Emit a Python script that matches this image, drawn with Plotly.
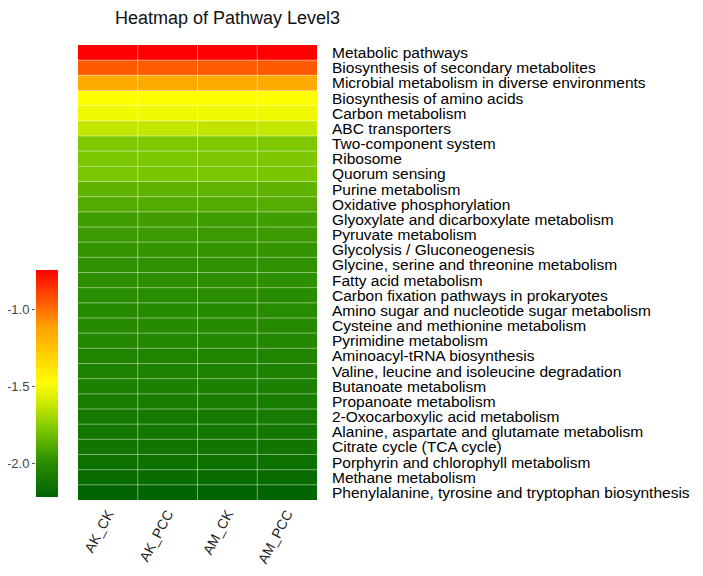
import plotly.graph_objects as go

# pathways, top to bottom
pathways = [
    "Metabolic pathways",
    "Biosynthesis of secondary metabolites",
    "Microbial metabolism in diverse environments",
    "Biosynthesis of amino acids",
    "Carbon metabolism",
    "ABC transporters",
    "Two-component system",
    "Ribosome",
    "Quorum sensing",
    "Purine metabolism",
    "Oxidative phosphorylation",
    "Glyoxylate and dicarboxylate metabolism",
    "Pyruvate metabolism",
    "Glycolysis / Gluconeogenesis",
    "Glycine, serine and threonine metabolism",
    "Fatty acid metabolism",
    "Carbon fixation pathways in prokaryotes",
    "Amino sugar and nucleotide sugar metabolism",
    "Cysteine and methionine metabolism",
    "Pyrimidine metabolism",
    "Aminoacyl-tRNA biosynthesis",
    "Valine, leucine and isoleucine degradation",
    "Butanoate metabolism",
    "Propanoate metabolism",
    "2-Oxocarboxylic acid metabolism",
    "Alanine, aspartate and glutamate metabolism",
    "Citrate cycle (TCA cycle)",
    "Porphyrin and chlorophyll metabolism",
    "Methane metabolism",
    "Phenylalanine, tyrosine and tryptophan biosynthesis",
]

samples = ["AK_CK", "AK_PCC", "AM_CK", "AM_PCC"]

# log10 relative abundance, one list per sample (same row order as pathways)
ak_ck = [-0.740, -0.949, -1.148, -1.480, -1.517, -1.628, -1.776, -1.780, -1.785, -1.854,
         -1.881, -1.933, -1.946, -1.967, -1.977, -1.986, -1.995, -2.001, -2.005, -2.026,
         -2.042, -2.053, -2.065, -2.081, -2.097, -2.109, -2.125, -2.147, -2.176, -2.220]
ak_pcc = [-0.741, -0.950, -1.150, -1.481, -1.518, -1.630, -1.777, -1.781, -1.786, -1.855,
          -1.882, -1.934, -1.947, -1.968, -1.978, -1.987, -1.996, -2.002, -2.006, -2.027,
          -2.043, -2.054, -2.066, -2.082, -2.098, -2.110, -2.126, -2.148, -2.177, -2.219]
am_ck = [-0.742, -0.951, -1.149, -1.479, -1.516, -1.632, -1.775, -1.782, -1.784, -1.853,
         -1.880, -1.936, -1.948, -1.966, -1.976, -1.988, -1.994, -2.003, -2.004, -2.025,
         -2.041, -2.052, -2.067, -2.080, -2.096, -2.111, -2.124, -2.149, -2.178, -2.218]
am_pcc = [-0.741, -0.948, -1.147, -1.482, -1.519, -1.625, -1.774, -1.779, -1.787, -1.856,
          -1.879, -1.932, -1.945, -1.969, -1.979, -1.985, -1.997, -2.000, -2.007, -2.028,
          -2.044, -2.051, -2.064, -2.083, -2.095, -2.108, -2.127, -2.146, -2.175, -2.220]

cbar_ticks = [-2.0, -1.5, -1.0]

z = [list(r) for r in zip(ak_ck, ak_pcc, am_ck, am_pcc)]
zmin, zmax = -2.22, -0.74

# dark green -> yellow -> red, with the green half bowed toward brighter greens
colorscale = [
    [0.00, "rgb(0,100,0)"],
    [0.15, "rgb(40,140,0)"],
    [0.30, "rgb(125,200,0)"],
    [0.40, "rgb(195,230,0)"],
    [0.50, "rgb(255,255,0)"],
    [0.75, "rgb(255,160,0)"],
    [1.00, "rgb(255,0,0)"],
]

font = "Arial, Liberation Sans, sans-serif"
W, H = 703, 576
# page body has an 8px margin, so positions below are the reference pixels minus 8
hm_x0, hm_x1, hm_top, hm_bot = 70, 309, 37, 492
cb_x0, cb_w, cb_top, cb_bot = 28, 22, 262, 489

fig = go.Figure(go.Heatmap(
    z=z, x=samples, y=pathways,
    zmin=zmin, zmax=zmax,
    colorscale=colorscale,
    colorbar=dict(
        x=cb_x0 / W, xanchor="left", y=1 - (cb_top + cb_bot) / 2 / H, yanchor="middle",
        len=(cb_bot - cb_top) / H, thickness=cb_w, xpad=0, ypad=0, outlinewidth=0,
        showticklabels=False, ticks="",
    ),
))

# invisible trace on helper axes that carry the colorbar's ticks on its left side
fig.add_trace(go.Scatter(x=[None], y=[None], xaxis="x2", yaxis="y2",
                         showlegend=False, hoverinfo="skip"))

# light cell borders
shapes = []
for i in range(1, len(samples)):
    shapes.append(dict(type="line", xref="x", yref="paper", x0=i - 0.5, x1=i - 0.5,
                       y0=1 - hm_bot / H, y1=1 - hm_top / H,
                       line=dict(color="rgba(255,255,255,0.45)", width=1)))
for j in range(1, len(pathways)):
    shapes.append(dict(type="line", xref="paper", yref="y", y0=j - 0.5, y1=j - 0.5,
                       x0=hm_x0 / W, x1=hm_x1 / W,
                       line=dict(color="rgba(255,255,255,0.45)", width=1)))

fig.update_layout(
    width=W, height=H,
    margin=dict(l=0, r=0, t=0, b=0, autoexpand=False),
    paper_bgcolor="white", plot_bgcolor="rgba(0,0,0,0)",
    shapes=shapes,
    showlegend=False,
    font=dict(family=font, color="black"),
    annotations=[dict(text="Heatmap of Pathway Level3", xref="paper", yref="paper",
                      x=105 / W, y=1 - 10 / H, xanchor="left", yanchor="middle",
                      showarrow=False, font=dict(size=18, color="#111"))],
    xaxis=dict(domain=[hm_x0 / W, hm_x1 / W], tickangle=-62, showgrid=False, zeroline=False,
               tickfont=dict(size=14, color="#222"), ticks="", ticklabelstandoff=2,
               automargin=False),
    yaxis=dict(domain=[1 - hm_bot / H, 1 - hm_top / H], side="right", autorange="reversed",
               tickmode="array", tickvals=pathways, ticktext=pathways,
               showgrid=False, zeroline=False, ticks="", ticklabelstandoff=14,
               tickfont=dict(size=15.5, color="black"), automargin=False),
    xaxis2=dict(domain=[cb_x0 / W, (cb_x0 + cb_w) / W], anchor="y2", visible=False),
    yaxis2=dict(domain=[1 - cb_bot / H, 1 - cb_top / H], range=[zmin, zmax],
                anchor="x2", side="left",
                tickmode="array", tickvals=cbar_ticks, ticktext=["-2.0", "-1.5", "-1.0"],
                ticks="outside", ticklen=3, tickcolor="#555", showline=False,
                showgrid=False, zeroline=False, automargin=False,
                tickfont=dict(size=13, color="#444")),
)

fig.write_html("out.html")
